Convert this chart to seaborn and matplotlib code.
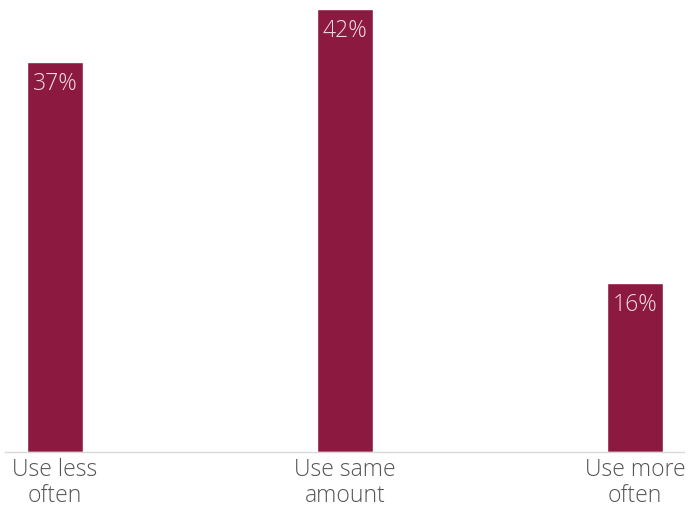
import matplotlib
matplotlib.use("Agg")
import matplotlib.pyplot as plt
import seaborn as sns
import pandas as pd

categories = ["Use less\noften", "Use same\namount", "Use more\noften"]
values = [37, 42, 16]
labels = ["37%", "42%", "16%"]

sns.set_theme(style="white")
plt.rcParams['font.family'] = ['Open Sans', 'DejaVu Sans']

df = pd.DataFrame({"cat": categories, "val": values})

fig = plt.figure(figsize=(6.89, 5.08), dpi=100)
ax = fig.add_axes([5/689, 56/508, 679/689, 452/508])

bar_color = "#8C1A40"
sns.barplot(data=df, x="cat", y="val", color=bar_color, width=0.193,
            saturation=1, ax=ax)

ax.set_xlim(-0.172, 2.169)
ax.set_ylim(0, 42.85)

for p, lab in zip(ax.patches, labels):
    ax.annotate(lab, (p.get_x() + p.get_width() / 2, p.get_height()),
                xytext=(0, -16), textcoords="offset points",
                ha="center", va="center", color="#f3dbe3",
                fontsize=16.5, fontweight="light")

for s in ["top", "right", "left"]:
    ax.spines[s].set_visible(False)
ax.spines["bottom"].set_color("#d9d9d9")
ax.spines["bottom"].set_linewidth(1)
ax.set_yticks([])
ax.set_xlabel("")
ax.set_ylabel("")
ax.tick_params(axis="x", length=0, pad=4, labelsize=16.5, labelcolor="#555555")
for t in ax.get_xticklabels():
    t.set_linespacing(1.15)
    t.set_fontweight("light")

fig.savefig("out.png", dpi=100)
